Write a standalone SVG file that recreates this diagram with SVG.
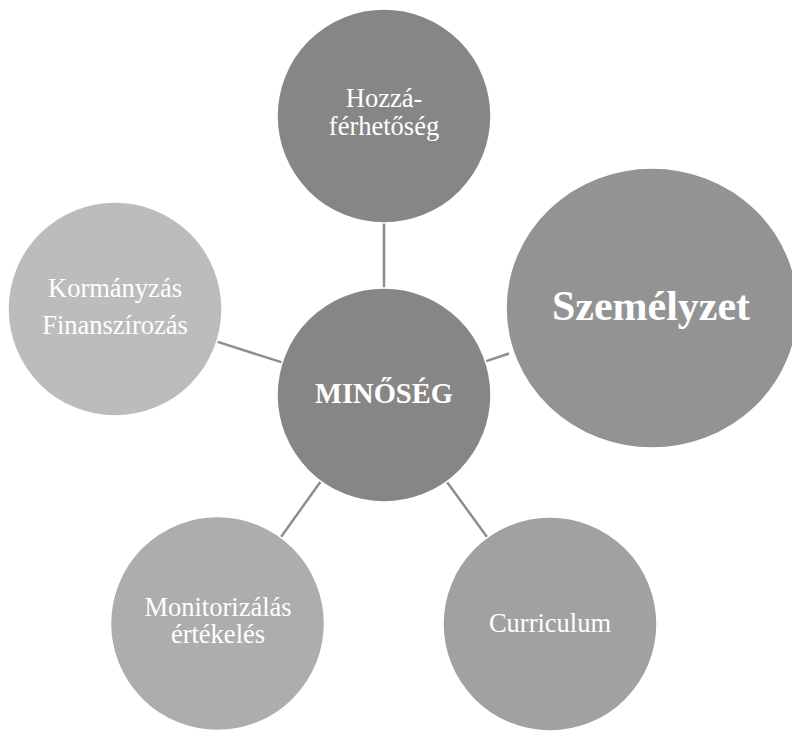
<svg xmlns="http://www.w3.org/2000/svg" width="792" height="731" viewBox="0 0 792 731">
<style>
.c{stroke:#ffffff;stroke-width:1.5}
.t{font-family:"Liberation Serif","Times New Roman",serif;fill:#ffffff;text-anchor:middle;font-size:26.5px}
.b{font-weight:bold}
.ln{stroke:#8e8e8e;stroke-width:2.5;fill:none}
</style>
<rect width="792" height="731" fill="#ffffff"/>
<g id="connectors">
<line class="ln" x1="384" y1="223" x2="384" y2="288"/>
<line class="ln" x1="217" y1="341.6" x2="282" y2="362.4"/>
<line class="ln" x1="485.6" y1="361.4" x2="509" y2="353.5"/>
<line class="ln" x1="321" y1="481" x2="281" y2="537"/>
<line class="ln" x1="446.8" y1="481.7" x2="487.2" y2="537.3"/>
</g>
<g id="node-top">
<circle class="c" cx="384" cy="116" r="107" fill="#868686"/>
<text class="t" x="384" y="107">Hozzá-</text>
<text class="t" x="384" y="135">férhetőség</text>
</g>
<g id="node-right">
<ellipse class="c" cx="652" cy="308" rx="146" ry="140" fill="#939393"/>
<text class="t b" x="651" y="320" style="font-size:42px">Személyzet</text>
</g>
<g id="node-left">
<circle class="c" cx="115" cy="309" r="107" fill="#bcbcbc"/>
<text class="t" x="115" y="297">Kormányzás</text>
<text class="t" x="115" y="334">Finanszírozás</text>
</g>
<g id="node-center">
<circle class="c" cx="384" cy="395" r="107" fill="#868686"/>
<text class="t b" x="384" y="403" style="font-size:28.5px">MINŐSÉG</text>
</g>
<g id="node-bottom-left">
<circle class="c" cx="217.5" cy="623.5" r="107" fill="#adadad"/>
<text class="t" x="218" y="616">Monitorizálás</text>
<text class="t" x="218" y="643">értékelés</text>
</g>
<g id="node-bottom-right">
<circle class="c" cx="550" cy="624" r="107" fill="#a1a1a1"/>
<text class="t" x="550" y="632">Curriculum</text>
</g>
</svg>
